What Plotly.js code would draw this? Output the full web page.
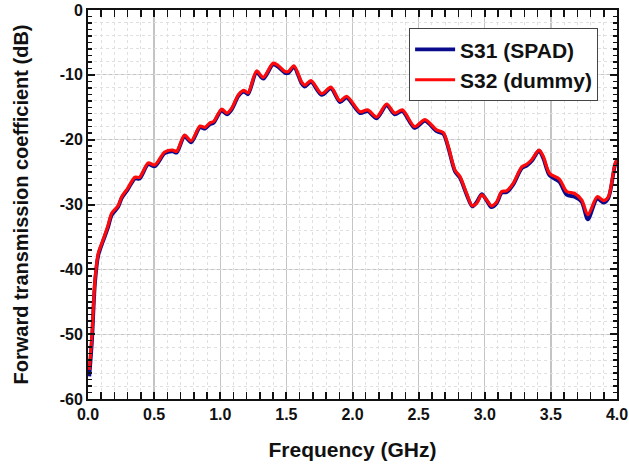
<!DOCTYPE html>
<html>
<head>
<meta charset="utf-8">
<script src="https://cdn.plot.ly/plotly-3.0.1.min.js"></script>
<style>html,body{margin:0;padding:0;background:#fff;}#chart{width:629px;height:466px;}</style>
</head>
<body>
<div id="chart"></div>
<script>
// Frequency (GHz)
const freq = [0.01,0.03,0.053,0.078,0.113,0.15,0.18,0.227,0.255,0.30,0.355,0.39,0.455,0.505,0.58,0.64,0.67,0.73,0.78,0.847,0.885,0.922,0.95,1.01,1.05,1.085,1.14,1.18,1.21,1.275,1.325,1.40,1.44,1.49,1.515,1.557,1.615,1.64,1.686,1.767,1.837,1.905,1.956,2.057,2.115,2.183,2.258,2.32,2.377,2.47,2.548,2.636,2.687,2.725,2.775,2.813,2.863,2.906,2.94,2.977,3.015,3.05,3.09,3.128,3.166,3.216,3.28,3.317,3.355,3.41,3.443,3.49,3.564,3.62,3.68,3.733,3.78,3.85,3.90,3.935,3.985,4.0];
// S32 (dummy), dB
const s32 = [-55.5,-50.0,-41.6,-37.5,-35.5,-33.3,-31.3,-30.2,-28.8,-27.5,-25.8,-25.8,-23.6,-23.9,-21.9,-21.6,-21.8,-19.3,-20.2,-17.9,-18.1,-17.4,-17.2,-15.3,-15.9,-15.2,-13.0,-12.4,-12.8,-9.4,-10.4,-8.2,-8.6,-9.5,-9.5,-8.6,-11.1,-11.6,-10.9,-12.9,-11.9,-14.0,-13.3,-15.7,-15.4,-16.5,-14.5,-15.9,-15.4,-18.0,-16.9,-18.5,-18.9,-21.1,-24.7,-25.7,-28.3,-30.2,-29.8,-28.5,-29.3,-30.2,-29.6,-28.0,-27.9,-26.7,-24.2,-23.8,-23.1,-21.6,-22.6,-25.2,-26.1,-28.0,-28.3,-29.3,-31.6,-28.8,-29.4,-28.8,-23.7,-23.1];
// S31 (SPAD), dB
const s31 = [-56.5,-51.0,-42.0,-37.8,-35.7,-33.6,-31.6,-30.4,-29.0,-27.7,-26.0,-26.0,-23.8,-24.1,-22.1,-21.8,-22.0,-19.5,-20.4,-18.1,-18.3,-17.6,-17.4,-15.5,-16.1,-15.4,-13.2,-12.6,-13.0,-9.6,-10.6,-8.4,-8.8,-9.7,-9.7,-8.8,-11.3,-11.8,-11.1,-13.1,-12.1,-14.2,-13.5,-15.9,-15.6,-16.7,-14.7,-16.1,-15.6,-18.2,-17.1,-18.7,-19.1,-21.3,-24.9,-25.9,-28.5,-30.3,-29.6,-28.4,-29.4,-30.4,-29.8,-28.2,-28.1,-26.9,-24.4,-24.0,-23.3,-21.7,-22.9,-25.5,-26.5,-28.5,-28.8,-29.6,-32.3,-29.1,-29.7,-29.0,-23.9,-23.2];

const xTicks = [0,0.5,1,1.5,2,2.5,3,3.5,4];
const xTickText = ['0.0','0.5','1.0','1.5','2.0','2.5','3.0','3.5','4.0'];
const yTicks = [-60,-50,-40,-30,-20,-10,0];
const yTickText = ['-60','-50','-40','-30','-20','-10','0'];

const F = 'Liberation Sans, Arial, sans-serif';

const traces = [
  {x: freq, y: s31, name: 'S31 (SPAD)', type: 'scatter', mode: 'lines',
   line: {color: '#0a0a8c', width: 3.8, shape: 'spline', smoothing: 0.8}},
  {x: freq, y: s32, name: 'S32 (dummy)', type: 'scatter', mode: 'lines',
   line: {color: '#ff0a0a', width: 3.2, shape: 'spline', smoothing: 0.8}},
  // helper axis for the 2 dB dashed minor grid
  {x: [0], y: [0], xaxis: 'x', yaxis: 'y2', mode: 'none', showlegend: false, hoverinfo: 'skip'}
];

const layout = {
  width: 629, height: 466,
  margin: {l: 88, r: 12, t: 10, b: 67},
  paper_bgcolor: '#fff', plot_bgcolor: '#fff',
  showlegend: true,
  legend: {x: 0.607, y: 0.953, xanchor: 'left', yanchor: 'top',
    bgcolor: '#fff', bordercolor: '#444', borderwidth: 1,
    font: {family: F, size: 21, color: '#111', weight: 'bold'},
    tracegroupgap: 0, itemwidth: 40},
  xaxis: {
    range: [0, 4], tickvals: xTicks, ticktext: xTickText,
    ticks: 'inside', ticklen: 7, tickwidth: 2, tickcolor: '#111',
    showline: true, linecolor: '#111', linewidth: 2, mirror: 'allticks',
    showgrid: true, gridcolor: '#c4c4c4', gridwidth: 1.3,
    zeroline: false,
    minor: {dtick: 0.1, tick0: 0, ticks: 'inside', ticklen: 4, tickwidth: 1.5, tickcolor: '#111',
            showgrid: true, gridcolor: '#e0e0e0', griddash: 'dot', gridwidth: 1},
    tickfont: {family: F, size: 16, color: '#111', weight: 'bold'},
    title: {text: 'Frequency (GHz)', font: {family: F, size: 21, color: '#111', weight: 'bold'}, standoff: 20}
  },
  yaxis: {
    range: [-60, 0], tickvals: yTicks, ticktext: yTickText,
    ticks: 'inside', ticklen: 7, tickwidth: 2, tickcolor: '#111',
    showline: true, linecolor: '#111', linewidth: 2, mirror: 'allticks',
    showgrid: true, gridcolor: '#c4c4c4', gridwidth: 1.3,
    zeroline: false,
    minor: {dtick: 1, tick0: 0, ticks: 'inside', ticklen: 4, tickwidth: 1.5, tickcolor: '#111', showgrid: false},
    tickfont: {family: F, size: 16, color: '#111', weight: 'bold'},
    title: {text: 'Forward transmission coefficient (dB)', font: {family: F, size: 20, color: '#111', weight: 'bold'}, standoff: 26}
  },
  yaxis2: {
    overlaying: 'y', range: [-60, 0], dtick: 2, tick0: 0,
    showgrid: true, gridcolor: '#e0e0e0', griddash: 'dot', gridwidth: 1,
    showticklabels: false, ticks: '', zeroline: false, showline: false
  }
};

Plotly.newPlot('chart', traces, layout, {staticPlot: true, displayModeBar: false});
</script>
</body>
</html>
